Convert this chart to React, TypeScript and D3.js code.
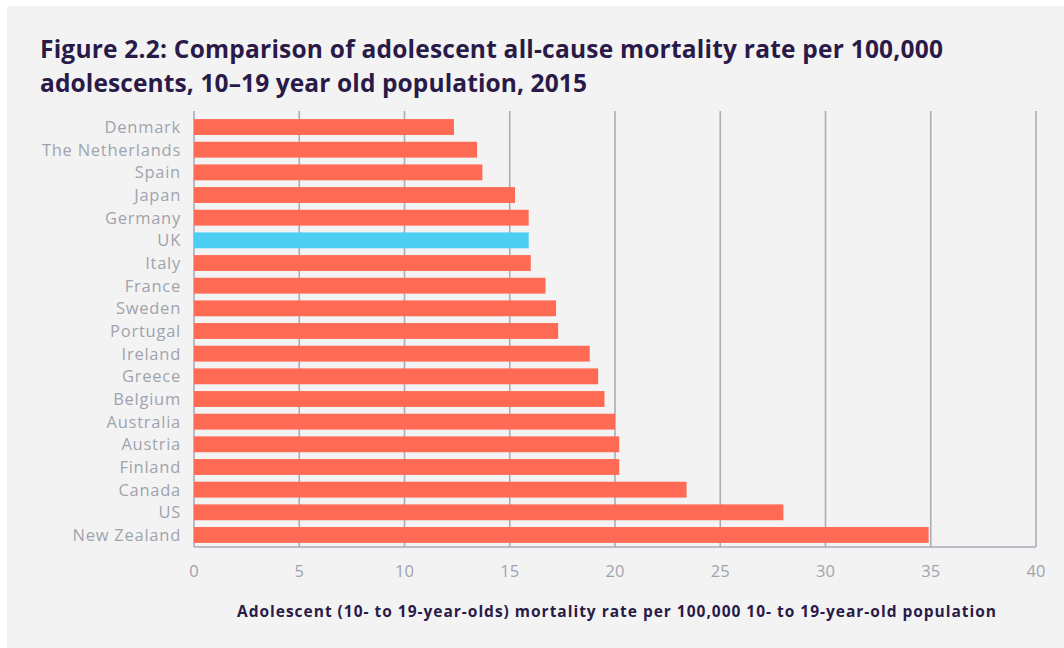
import React from 'react';
import * as d3 from 'd3';

const countries = [
  'Denmark', 'The Netherlands', 'Spain', 'Japan', 'Germany', 'UK', 'Italy',
  'France', 'Sweden', 'Portugal', 'Ireland', 'Greece', 'Belgium', 'Australia',
  'Austria', 'Finland', 'Canada', 'US', 'New Zealand',
];
const rates = [
  12.35, 13.45, 13.7, 15.25, 15.9, 15.9, 16.0, 16.7, 17.2, 17.3, 18.8, 19.2,
  19.5, 20.0, 20.2, 20.2, 23.4, 28.0, 34.9,
];
const xTicks = [0, 5, 10, 15, 20, 25, 30, 35, 40];
const highlight = 'UK';

const titleLines = [
  'Figure 2.2: Comparison of adolescent all-cause mortality rate per 100,000',
  'adolescents, 10\u201319 year old population, 2015',
];
const titleWidths = [903, 547];
const axisTitle =
  'Adolescent (10- to 19-year-olds) mortality rate per 100,000 10- to 19-year-old population';

const W = 1064;
const H = 648;
const font = '"Open Sans", Roboto, sans-serif';

export default function App() {
  const x = d3.scaleLinear().domain([0, 40]).range([194, 1036]);
  const y = d3
    .scaleBand()
    .domain(countries)
    .range([115.7, 546.3])
    .paddingInner(0.3)
    .paddingOuter(0.15);
  const gridTop = 111;
  const gridBottom = 547;

  return (
    <svg
      width={W}
      height={H}
      style={{ position: 'absolute', left: 0, top: 0, fontFamily: font }}
    >
      <rect x={0} y={0} width={W} height={H} fill="#ffffff" />
      <rect x={7} y={6} width={W - 7} height={H - 6} fill="#f3f3f3" />

      {titleLines.map((t, i) => (
        <text
          key={i}
          x={40}
          y={58 + i * 34}
          fontSize={24.5}
          fontWeight={700}
          fill="#2a1a48"
          textLength={titleWidths[i]}
          lengthAdjust="spacing"
        >
          {t}
        </text>
      ))}

      {/* grid */}
      {xTicks.map((t) => (
        <line
          key={t}
          x1={x(t)}
          x2={x(t)}
          y1={gridTop}
          y2={gridBottom}
          stroke="#a9adb8"
          strokeWidth={1.6}
        />
      ))}
      <line
        x1={x(0)}
        x2={x(40)}
        y1={gridBottom}
        y2={gridBottom}
        stroke="#a9adb8"
        strokeWidth={1.6}
      />

      {/* bars */}
      {countries.map((c, i) => (
        <rect
          key={c}
          x={x(0)}
          y={y(c)}
          width={x(rates[i]) - x(0)}
          height={y.bandwidth()}
          fill={c === highlight ? '#4dcff3' : '#ff6a55'}
        />
      ))}

      {/* country labels */}
      {countries.map((c) => (
        <text
          key={c}
          x={181}
          y={(y(c) ?? 0) + y.bandwidth() / 2}
          dy="0.36em"
          textAnchor="end"
          fontSize={16.5}
          letterSpacing={0.75}
          fill="#9fa3ae"
        >
          {c}
        </text>
      ))}

      {/* tick labels */}
      {xTicks.map((t) => (
        <text
          key={t}
          x={x(t)}
          y={577}
          textAnchor="middle"
          fontSize={16.5}
          fill="#9fa3ae"
        >
          {t}
        </text>
      ))}

      <text
        x={237}
        y={617}
        fontSize={15.5}
        fontWeight={700}
        fill="#2a1a48"
        textLength={759}
        lengthAdjust="spacing"
      >
        {axisTitle}
      </text>
    </svg>
  );
}
